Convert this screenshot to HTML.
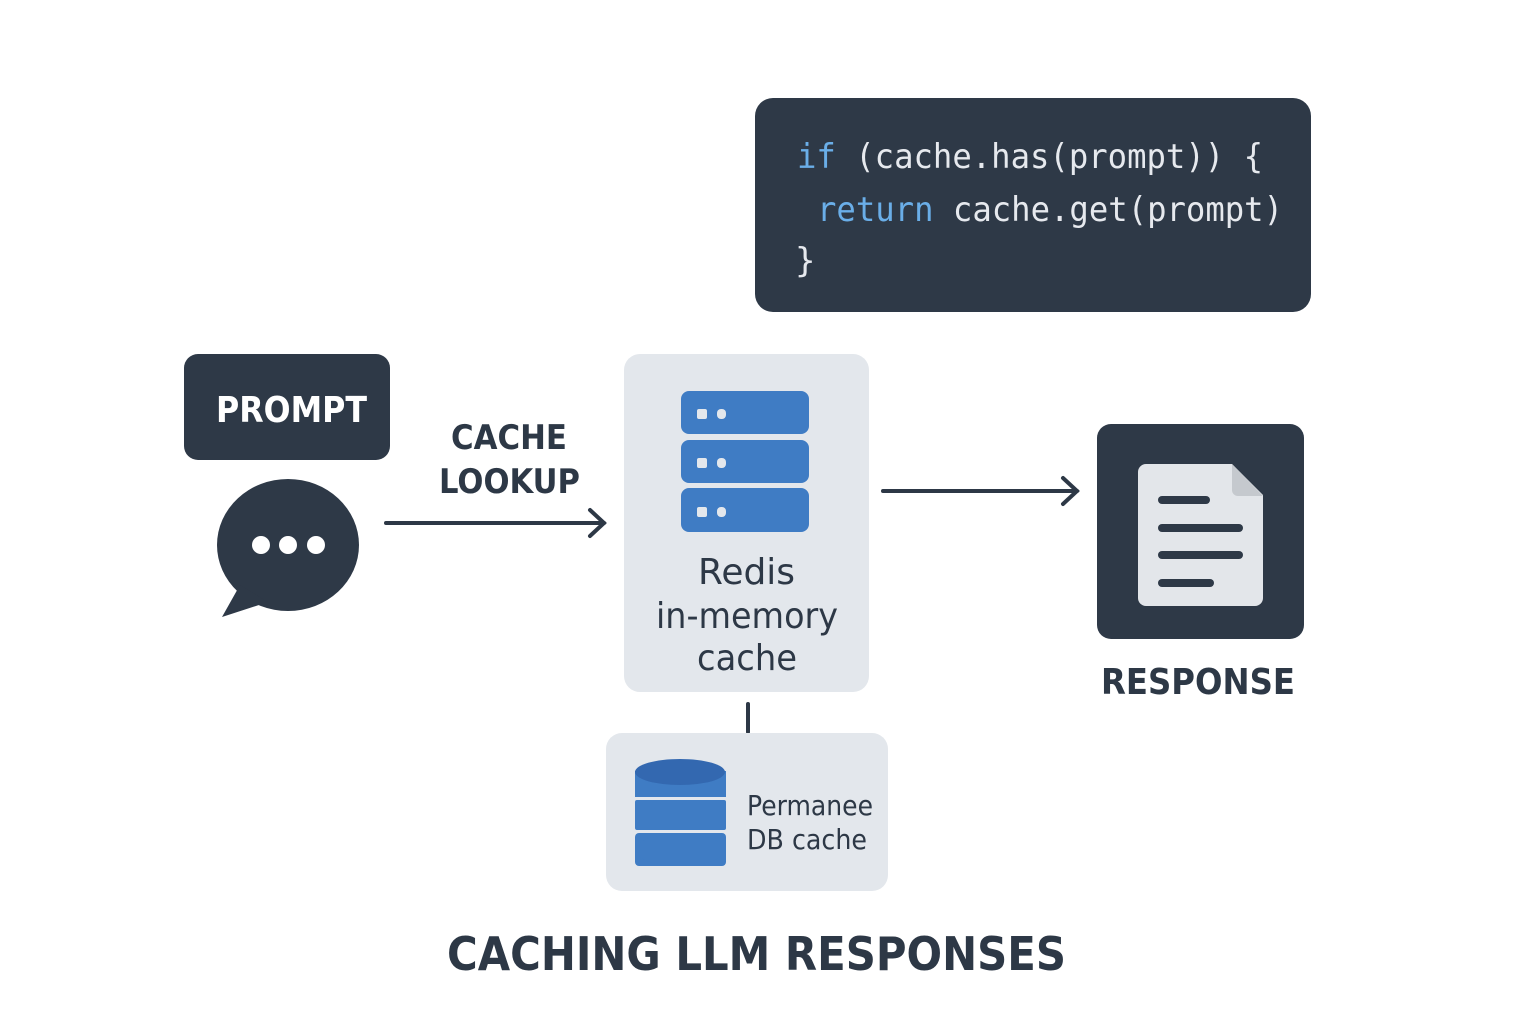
<!DOCTYPE html>
<html><head><meta charset="utf-8"><style>
html,body{margin:0;padding:0;background:#fff;}
svg{display:block}
text{font-family:"DejaVu Sans","Liberation Sans",sans-serif;fill:#2d3846}
.m{font-family:"DejaVu Sans Mono","Liberation Mono",monospace}
</style></head><body>
<svg width="1536" height="1024" viewBox="0 0 1536 1024" xmlns="http://www.w3.org/2000/svg">
<rect x="755" y="98" width="556" height="214" rx="18" fill="#2e3947"/>
<text class="m" x="797" y="168" font-size="34" textLength="466" lengthAdjust="spacingAndGlyphs" style="fill:#e6e9ee"><tspan style="fill:#6aaee8">if</tspan> (cache.has(prompt)) {</text>
<text class="m" x="817" y="221" font-size="34" textLength="466" lengthAdjust="spacingAndGlyphs" style="fill:#e6e9ee"><tspan style="fill:#6aaee8">return</tspan> cache.get(prompt)</text>
<text class="m" x="795" y="272" font-size="34" style="fill:#e6e9ee">}</text>
<rect x="184" y="354" width="206" height="106" rx="14" fill="#2e3947"/>
<text x="216" y="422" font-size="36" font-weight="bold" textLength="151" lengthAdjust="spacingAndGlyphs" style="fill:#fff">PROMPT</text>
<ellipse cx="288" cy="545" rx="71" ry="66" fill="#2e3947"/>
<path d="M240 585 L222 617 L268 602 Z" fill="#2e3947"/>
<circle cx="261" cy="545" r="9" fill="#fff"/><circle cx="288" cy="545" r="9" fill="#fff"/><circle cx="316" cy="545" r="9" fill="#fff"/>
<text x="451" y="449" font-size="34" font-weight="bold" textLength="116" lengthAdjust="spacingAndGlyphs">CACHE</text>
<text x="439" y="493" font-size="34" font-weight="bold" textLength="141" lengthAdjust="spacingAndGlyphs">LOOKUP</text>
<g stroke="#2d3846" stroke-width="4" fill="none" stroke-linecap="round">
<line x1="386" y1="523" x2="604" y2="523"/><polyline points="590,510 604,523 590,536"/>
<line x1="883" y1="491" x2="1077" y2="491"/><polyline points="1063,478 1077,491 1063,504"/>
<line x1="748" y1="704" x2="748" y2="732"/>
</g>
<rect x="624" y="354" width="245" height="338" rx="16" fill="#e3e7ec"/>
<g fill="#3f7cc4">
<rect x="681" y="391" width="128" height="43" rx="8"/>
<rect x="681" y="440" width="128" height="43" rx="8"/>
<rect x="681" y="488" width="128" height="44" rx="8"/>
</g>
<g fill="#e3e7ec">
<rect x="697" y="409" width="10" height="10" rx="2"/><rect x="717" y="409" width="9" height="10" rx="4"/>
<rect x="697" y="458" width="10" height="10" rx="2"/><rect x="717" y="458" width="9" height="10" rx="4"/>
<rect x="697" y="507" width="10" height="10" rx="2"/><rect x="717" y="507" width="9" height="10" rx="4"/>
</g>
<text x="698" y="584" font-size="36" textLength="97" lengthAdjust="spacingAndGlyphs">Redis</text>
<text x="656" y="628" font-size="36" textLength="182" lengthAdjust="spacingAndGlyphs">in-memory</text>
<text x="697" y="670" font-size="36" textLength="100" lengthAdjust="spacingAndGlyphs">cache</text>
<rect x="606" y="733" width="282" height="158" rx="16" fill="#e3e7ec"/>
<g fill="#3f7cc4">
<rect x="635" y="833" width="91" height="33" rx="4"/><ellipse cx="680" cy="850" rx="45" ry="16"/>
<rect x="635" y="800" width="91" height="30" rx="2"/>
<rect x="635" y="771" width="91" height="26"/>
<ellipse cx="680" cy="772" rx="45" ry="13" fill="#3368b0"/>
</g>
<text x="747" y="815" font-size="28" textLength="126" lengthAdjust="spacingAndGlyphs">Permanee</text>
<text x="747" y="849" font-size="28" textLength="120" lengthAdjust="spacingAndGlyphs">DB cache</text>
<rect x="1097" y="424" width="207" height="215" rx="14" fill="#2e3947"/>
<path d="M1146 464 H1232 L1263 495 V598 a8 8 0 0 1 -8 8 H1146 a8 8 0 0 1 -8 -8 V472 a8 8 0 0 1 8 -8Z" fill="#e3e6ea"/>
<path d="M1232 464 V490 a6 6 0 0 0 6 6 H1263 Z" fill="#c5c9ce"/>
<g stroke="#2e3947" stroke-width="8" stroke-linecap="round">
<line x1="1162" y1="500" x2="1206" y2="500"/><line x1="1162" y1="528" x2="1239" y2="528"/>
<line x1="1162" y1="555" x2="1239" y2="555"/><line x1="1162" y1="583" x2="1210" y2="583"/>
</g>
<text x="1101" y="694" font-size="36" font-weight="bold" textLength="194" lengthAdjust="spacingAndGlyphs">RESPONSE</text>
<text x="447" y="970" font-size="46" font-weight="bold" textLength="619" lengthAdjust="spacingAndGlyphs">CACHING LLM RESPONSES</text>
</svg>
</body></html>
